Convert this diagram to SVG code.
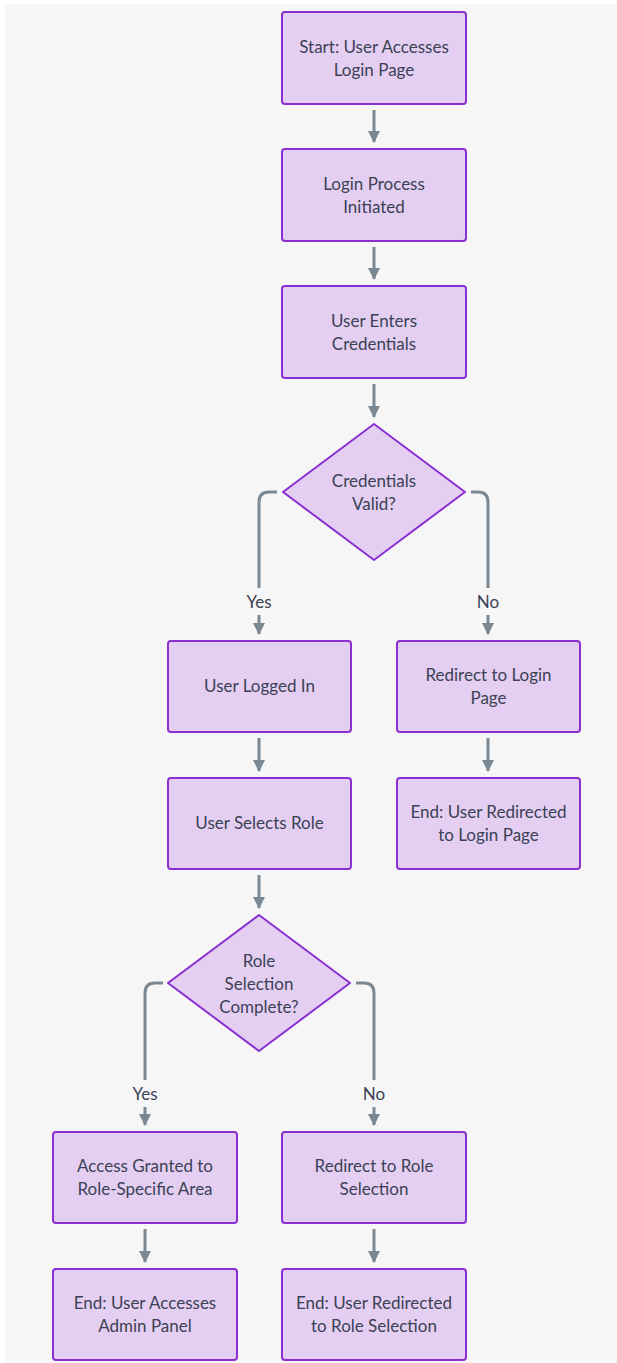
<svg xmlns="http://www.w3.org/2000/svg" width="617" height="1363" viewBox="0 0 617 1363">
  <style>
    .node rect, .node polygon { fill: #e4cff3; stroke: #8a2fd1; stroke-width: 2; }
    .node text { font-family: "Lato", "Liberation Sans", sans-serif; font-size: 17px; fill: #3b4153; text-anchor: middle; }
    .edge { fill: none; stroke: #7a8894; stroke-width: 3; }
    .elabel { font-family: "Lato", "Liberation Sans", sans-serif; font-size: 17px; fill: #3b4153; text-anchor: middle; }
  </style>
  <defs>
    <marker id="arrow" viewBox="0 0 12 12" refX="11" refY="6" markerWidth="12" markerHeight="12" markerUnits="userSpaceOnUse" orient="auto">
      <path d="M0,0 L12,6 L0,12 Z" fill="#7a8894"/>
    </marker>
  </defs>
  <rect x="0" y="0" width="617" height="1363" fill="#ffffff"/>
  <rect x="5" y="4" width="612" height="1359" fill="#f6f6f6"/>

  <!-- connectors -->
  <g id="connectors">
    <path class="edge" d="M374,110 V142" marker-end="url(#arrow)"/>
    <path class="edge" d="M374,247 V279" marker-end="url(#arrow)"/>
    <path class="edge" d="M374,384 V417" marker-end="url(#arrow)"/>
    <path class="edge" d="M277,492 H269 Q259,492 259,502 V588"/>
    <path class="edge" d="M259,615 V634" marker-end="url(#arrow)"/>
    <path class="edge" d="M471,492 H478 Q488,492 488,502 V588"/>
    <path class="edge" d="M488,615 V634" marker-end="url(#arrow)"/>
    <path class="edge" d="M259,738 V771" marker-end="url(#arrow)"/>
    <path class="edge" d="M488,738 V771" marker-end="url(#arrow)"/>
    <path class="edge" d="M259,875 V908" marker-end="url(#arrow)"/>
    <path class="edge" d="M163,983 H155 Q145,983 145,993 V1080"/>
    <path class="edge" d="M145,1107 V1125" marker-end="url(#arrow)"/>
    <path class="edge" d="M356,983 H364 Q374,983 374,993 V1080"/>
    <path class="edge" d="M374,1107 V1125" marker-end="url(#arrow)"/>
    <path class="edge" d="M145,1229 V1262" marker-end="url(#arrow)"/>
    <path class="edge" d="M374,1229 V1262" marker-end="url(#arrow)"/>
    <text class="elabel" x="259" y="608">Yes</text>
    <text class="elabel" x="488" y="608">No</text>
    <text class="elabel" x="145" y="1100">Yes</text>
    <text class="elabel" x="374" y="1100">No</text>
  </g>

  <g id="start" class="node">
    <rect x="282" y="12" width="184" height="92" rx="3"/>
    <text x="374" y="53">Start: User Accesses</text>
    <text x="374" y="76">Login Page</text>
  </g>
  <g id="login" class="node">
    <rect x="282" y="149" width="184" height="92" rx="3"/>
    <text x="374" y="190">Login Process</text>
    <text x="374" y="213">Initiated</text>
  </g>
  <g id="credentials" class="node">
    <rect x="282" y="286" width="184" height="92" rx="3"/>
    <text x="374" y="327">User Enters</text>
    <text x="374" y="350">Credentials</text>
  </g>
  <g id="valid" class="node">
    <polygon points="374,424 465,492 374,560 283,492" stroke-linejoin="round"/>
    <text x="374" y="487">Credentials</text>
    <text x="374" y="510">Valid?</text>
  </g>
  <g id="loggedin" class="node">
    <rect x="168" y="641" width="183" height="91" rx="3"/>
    <text x="259.5" y="692">User Logged In</text>
  </g>
  <g id="redirectlogin" class="node">
    <rect x="397" y="641" width="183" height="91" rx="3"/>
    <text x="488.5" y="681">Redirect to Login</text>
    <text x="488.5" y="704">Page</text>
  </g>
  <g id="selectrole" class="node">
    <rect x="168" y="778" width="183" height="91" rx="3"/>
    <text x="259.5" y="829">User Selects Role</text>
  </g>
  <g id="endlogin" class="node">
    <rect x="397" y="778" width="183" height="91" rx="3"/>
    <text x="488.5" y="818">End: User Redirected</text>
    <text x="488.5" y="841">to Login Page</text>
  </g>
  <g id="rolecomplete" class="node">
    <polygon points="259,915 350,983 259,1051 168,983" stroke-linejoin="round"/>
    <text x="259" y="967">Role</text>
    <text x="259" y="990">Selection</text>
    <text x="259" y="1013">Complete?</text>
  </g>
  <g id="granted" class="node">
    <rect x="53" y="1132" width="184" height="91" rx="3"/>
    <text x="145" y="1172">Access Granted to</text>
    <text x="145" y="1195">Role-Specific Area</text>
  </g>
  <g id="redirectrole" class="node">
    <rect x="282" y="1132" width="184" height="91" rx="3"/>
    <text x="374" y="1172">Redirect to Role</text>
    <text x="374" y="1195">Selection</text>
  </g>
  <g id="endadmin" class="node">
    <rect x="53" y="1269" width="184" height="91" rx="3"/>
    <text x="145" y="1309">End: User Accesses</text>
    <text x="145" y="1332">Admin Panel</text>
  </g>
  <g id="endrole" class="node">
    <rect x="282" y="1269" width="184" height="91" rx="3"/>
    <text x="374" y="1309">End: User Redirected</text>
    <text x="374" y="1332">to Role Selection</text>
  </g>
</svg>
